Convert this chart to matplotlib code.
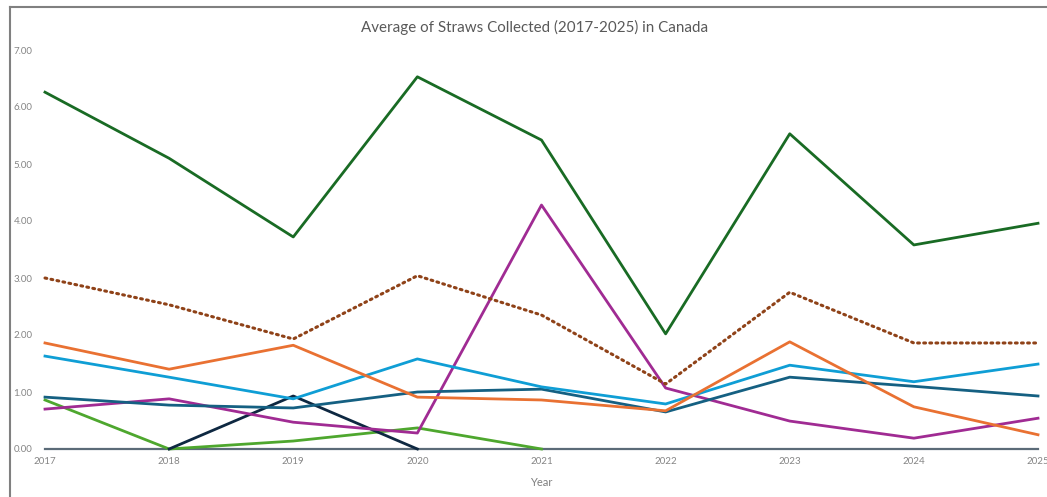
import matplotlib.pyplot as plt
from matplotlib.lines import Line2D

years = [2017, 2018, 2019, 2020, 2021, 2022, 2023, 2024, 2025]
nan = float("nan")

dark_green = [6.26, 5.10, 3.72, 6.53, 5.42, 2.02, 5.53, 3.58, 3.96]
brown_dotted = [3.00, 2.53, 1.93, 3.04, 2.35, 1.14, 2.75, 1.86, 1.86]
orange = [1.86, 1.40, 1.82, 0.91, 0.86, 0.67, 1.88, 0.74, 0.25]
light_blue = [1.63, 1.26, 0.88, 1.58, 1.09, 0.79, 1.47, 1.18, 1.49]
teal = [0.91, 0.77, 0.72, 1.00, 1.05, 0.65, 1.26, 1.10, 0.93]
purple = [0.70, 0.88, 0.47, 0.28, 4.28, 1.07, 0.49, 0.19, 0.54]
light_green = [0.86, 0.00, 0.14, 0.37, 0.00, nan, nan, nan, nan]
navy = [nan, 0.00, 0.93, 0.00, nan, nan, nan, nan, nan]
zero = [0, 0, 0, 0, 0, 0, 0, 0, 0]

plt.rcParams['font.family'] = ['Lato', 'DejaVu Sans']

fig = plt.figure(figsize=(10.47, 4.97), dpi=100)
ax = fig.add_axes([45 / 1047, 1 - 449 / 497, (1038 - 45) / 1047, (449 - 50) / 497])

lw = 2.0
ax.plot(years, zero, color="#5b6b78", lw=1.6, clip_on=False, zorder=1)
ax.plot(years, light_green, color="#4ea72e", lw=lw, clip_on=False)
ax.plot(years, navy, color="#0e2841", lw=lw, clip_on=False)
ax.plot(years, purple, color="#a02b93", lw=lw, clip_on=False)
ax.plot(years, teal, color="#156082", lw=lw, clip_on=False)
ax.plot(years, light_blue, color="#0f9ed5", lw=lw, clip_on=False)
ax.plot(years, orange, color="#e97132", lw=lw, clip_on=False)
ax.plot(years, brown_dotted, color="#8f4218", lw=2.2, linestyle=(0, (0.6, 1.4)),
        dash_capstyle="round", clip_on=False)
ax.plot(years, dark_green, color="#196b24", lw=lw, clip_on=False)

ax.set_xlim(2017, 2025)
ax.set_ylim(0, 7)
ax.set_xticks(years)
ax.set_yticks(range(0, 8))
ax.set_yticklabels(["{:.2f}".format(v) for v in range(0, 8)])
ax.tick_params(length=0, labelsize=7, labelcolor="#858585", pad=6)
ax.tick_params(axis="y", pad=9)
for s in ax.spines.values():
    s.set_visible(False)

ax.set_xlabel("Year", fontsize=8, color="#7f7f7f", labelpad=8)
fig.text(0.511, 1 - 27 / 497, "Average of Straws Collected (2017-2025) in Canada",
         ha="center", va="center", fontsize=10.9, color="#595959")

# outer frame (partly cropped)
fig.add_artist(Line2D([10 / 1047, 10 / 1047], [0, 1 - 7 / 497], transform=fig.transFigure,
                      color="#808080", lw=1.5))
fig.add_artist(Line2D([10 / 1047, 1], [1 - 7 / 497, 1 - 7 / 497], transform=fig.transFigure,
                      color="#808080", lw=1.5))

fig.savefig("out.png", dpi=100)
